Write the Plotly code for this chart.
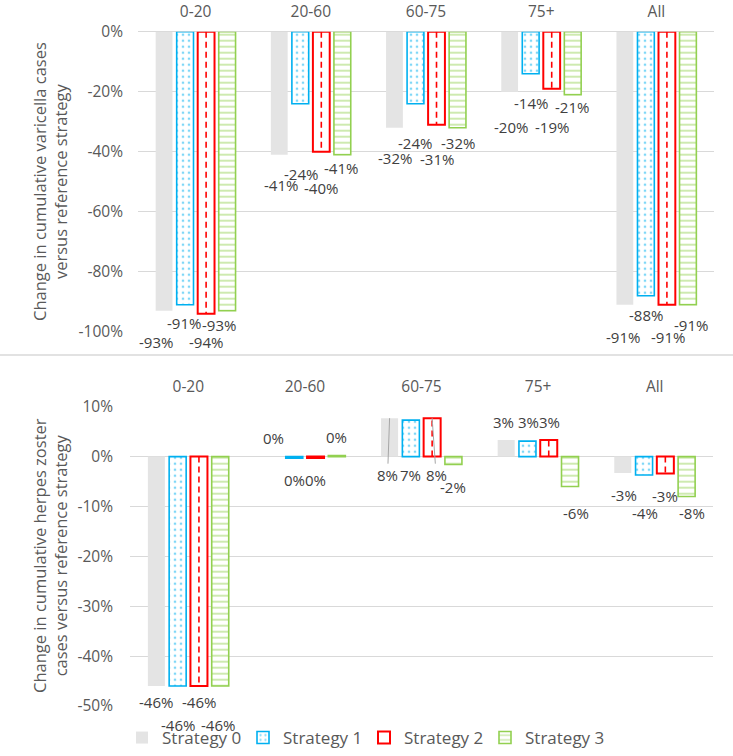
import plotly.graph_objects as go

categories = ["0-20", "20-60", "60-75", "75+", "All"]
series_names = ["Strategy 0", "Strategy 1", "Strategy 2", "Strategy 3"]

# Change in cumulative varicella cases (%)
var_s0 = [-93, -41, -32, -20, -91]
var_s1 = [-91, -24, -24, -14, -88]
var_s2 = [-94, -40, -31, -19, -91]
var_s3 = [-93, -41, -32, -21, -91]

# Change in cumulative herpes zoster cases (%)
hz_s0 = [-46, 0.0, 7.7, 3.3, -3.3]
hz_s1 = [-46, -0.3, 7.3, 3.1, -3.7]
hz_s2 = [-46, -0.3, 7.7, 3.3, -3.4]
hz_s3 = [-46, 0.2, -1.6, -6.0, -8.0]

top_ticks = [0, -20, -40, -60, -80, -100]
bottom_ticks = [10, 0, -10, -20, -30, -40, -50]

# ---- styling ----
W, H = 733, 756
FONT = "Open Sans"
LABEL_COLOR = "#404040"
TICK_COLOR = "#595959"
GRID = "#d9d9d9"
BARGAP = 0.27
GROUPGAP = 0.2
N = 4
slot = (1 - BARGAP) / N
offsets = [-(1 - BARGAP) / 2 + slot * (j + 0.5) for j in range(N)]

styles = [
    dict(color="#e4e4e4", line=dict(width=0)),
    dict(color="white", line=dict(color="#00b0f0", width=1.6),
         pattern=dict(shape=".", fgcolor="#00b0f0", bgcolor="white", size=6, solidity=0.16)),
    dict(color="white", line=dict(color="#ff0000", width=2)),
    dict(color="white", line=dict(color="#92d050", width=1.6),
         pattern=dict(shape="-", fgcolor="#92d050", bgcolor="white", size=6, solidity=0.3)),
]

# label offsets in pixels (dx right, dy down) relative to bar end
top_label_off = [
    [(-8, 31), (2, 30), (1, 30), (1, 35), (-2, 32)],
    [(-1, 18), (1, 70), (0, 39), (0, 29), (0, 19)],
    [(0, 28), (0, 36), (0, 34), (0, 38), (1, 32)],
    [(-8, 14), (-1, 13), (0, 15), (-1, 12), (3, 20)],
]
bot_label_off = [
    [(0, 16), (1, -19), (-2, 57), (-3, -18), (1, 22)],
    [(0, 39), (0, 22), (0, 55), (1, -19), (1, 38)],
    [(0, 16), (0, 22), (4, 57), (1, -18), (0, 22)],
    [(-2, 39), (0, -19), (0, 22), (6, 26), (5, 17)],
]
leaders = {(0, 2), (2, 2)}  # (series, category) in bottom panel with leader line

top_data = [var_s0, var_s1, var_s2, var_s3]
bot_data = [hz_s0, hz_s1, hz_s2, hz_s3]
xidx = list(range(len(categories)))


def pct(v):
    r = int(round(v))
    return f"{r}%"


fig = go.Figure()
annotations = []

for panel, (data, xa, ya, offs) in enumerate([
        (top_data, "x", "y", top_label_off),
        (bot_data, "x2", "y2", bot_label_off)]):
    for j, vals in enumerate(data):
        fig.add_trace(go.Bar(
            x=xidx, y=vals, name=series_names[j], marker=styles[j],
            xaxis=xa, yaxis=ya, showlegend=(panel == 0), legendgroup=series_names[j],
            hoverinfo="y"))
    # dashed inner line for strategy 2
    xs, ys = [], []
    for i, v in enumerate(data[2]):
        xs += [i + offsets[2], i + offsets[2], None]
        ys += [0, v, None]
    fig.add_trace(go.Scatter(x=xs, y=ys, mode="lines", xaxis=xa, yaxis=ya,
                             line=dict(color="#ff0000", width=1.6, dash="6px,4px"),
                             showlegend=False, hoverinfo="skip"))
    for j, vals in enumerate(data):
        for i, v in enumerate(vals):
            dx, dy = offs[j][i]
            a = dict(x=i + offsets[j], y=v, xref=xa, yref=ya, text=pct(v),
                     font=dict(family=FONT, size=15, color=LABEL_COLOR),
                     xanchor="center", yanchor="middle")
            if panel == 1 and (j, i) in leaders:
                a.update(showarrow=True, ax=dx, ay=dy, arrowhead=0, arrowwidth=1,
                         arrowcolor="#a6a6a6", standoff=0)
            else:
                a.update(showarrow=False, xshift=dx, yshift=-dy)
            annotations.append(a)

# y-axis titles
annotations.append(dict(
    x=50 / W, y=1 - 182 / H, xref="paper", yref="paper", showarrow=False,
    text="Change in cumulative varicella cases<br>versus reference strategy",
    textangle=-90, font=dict(family=FONT, size=16.5, color=TICK_COLOR),
    xanchor="center", yanchor="middle"))
annotations.append(dict(
    x=50 / W, y=1 - 556 / H, xref="paper", yref="paper", showarrow=False,
    text="Change in cumulative herpes zoster<br>cases versus reference strategy",
    textangle=-90, font=dict(family=FONT, size=16.5, color=TICK_COLOR),
    xanchor="center", yanchor="middle"))

axis_font = dict(family=FONT, size=15.5, color=TICK_COLOR)

fig.update_layout(
    width=W, height=H, margin=dict(l=0, r=0, t=0, b=0, autoexpand=False),
    paper_bgcolor="white", plot_bgcolor="white",
    barmode="group", bargap=BARGAP, bargroupgap=GROUPGAP,
    font=dict(family=FONT, color=TICK_COLOR),
    annotations=annotations,
    xaxis=dict(domain=[138 / W, 714 / W], anchor="y", side="top", range=[-0.5, 4.5],
               tickvals=xidx, ticktext=categories, showgrid=False, zeroline=False,
               showline=False, ticks="", tickfont=axis_font, ticklabelstandoff=11,
               automargin=False),
    yaxis=dict(domain=[1 - 331.7 / H, 1 - 31.7 / H], anchor="x", range=[-100, 0],
               tickvals=top_ticks, ticktext=[f"{t}%" for t in top_ticks],
               showgrid=True, gridcolor=GRID, gridwidth=1, zeroline=True,
               zerolinecolor=GRID, zerolinewidth=1, showline=False, ticks="",
               tickfont=axis_font, ticklabelstandoff=14, automargin=False),
    xaxis2=dict(domain=[130 / W, 713 / W], anchor="y2", side="top", range=[-0.5, 4.5],
                tickvals=xidx, ticktext=categories, showgrid=False, zeroline=False,
                showline=False, ticks="", tickfont=axis_font, ticklabelstandoff=11,
                automargin=False),
    yaxis2=dict(domain=[1 - 706 / H, 1 - 406.7 / H], anchor="x2", range=[-50, 10],
                tickvals=bottom_ticks, ticktext=[f"{t}%" for t in bottom_ticks],
                showgrid=True, gridcolor=GRID, gridwidth=1, zeroline=True,
                zerolinecolor=GRID, zerolinewidth=1, showline=False, ticks="",
                tickfont=axis_font, ticklabelstandoff=16, automargin=False),
    legend=dict(orientation="h", x=122 / W, y=1 - 738 / H, xanchor="left", yanchor="middle",
                font=dict(family=FONT, size=17, color=TICK_COLOR),
                entrywidth=76, entrywidthmode="pixels", bgcolor="rgba(0,0,0,0)"),
    shapes=[dict(type="line", xref="paper", yref="paper", x0=0, x1=1,
                 y0=1 - 355 / H, y1=1 - 355 / H, line=dict(color=GRID, width=1.5))],
)

fig.write_html("out.html")
